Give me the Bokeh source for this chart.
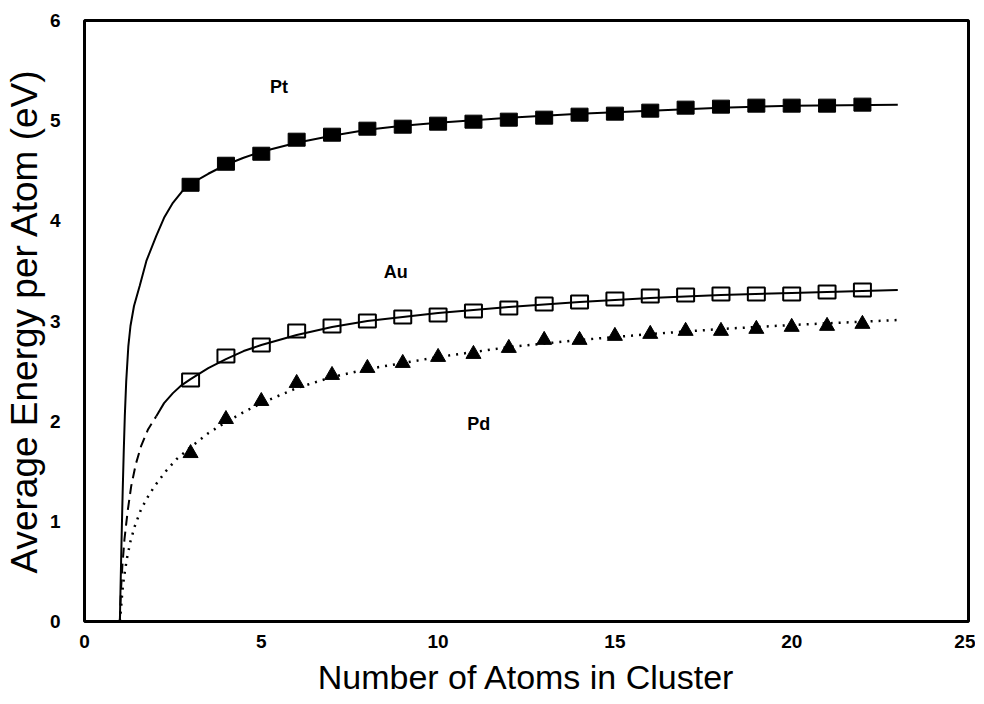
from bokeh.plotting import figure
from bokeh.models import Range1d, FixedTicker, Label
from bokeh.embed import file_html
from bokeh.resources import INLINE

# ---- data ----
n_atoms = list(range(3, 23))
pt_energy = [4.36, 4.57, 4.67, 4.81, 4.86, 4.92, 4.94, 4.97, 4.99, 5.01,
             5.03, 5.06, 5.07, 5.10, 5.13, 5.14, 5.15, 5.15, 5.15, 5.16]
au_energy = [2.41, 2.65, 2.76, 2.90, 2.95, 3.00, 3.04, 3.06, 3.10, 3.13,
             3.17, 3.19, 3.22, 3.25, 3.26, 3.27, 3.27, 3.27, 3.29, 3.31]
pd_energy = [1.68, 2.02, 2.20, 2.38, 2.46, 2.53, 2.58, 2.64, 2.67, 2.73,
             2.81, 2.81, 2.85, 2.87, 2.90, 2.90, 2.92, 2.94, 2.95, 2.97]

# fitted curves
pt_fit_x = [1.0, 1.02, 1.05, 1.08, 1.11, 1.14, 1.18, 1.24, 1.3, 1.4, 1.56, 1.75, 2.03, 2.25, 2.5,
            2.75, 3, 3.5, 4, 4.5, 5, 6, 7, 8, 9, 10, 12, 14, 16, 18, 20, 23]
pt_fit_y = [0.0, 0.35, 0.85, 1.3, 1.7, 2.05, 2.4, 2.75, 2.95, 3.15, 3.35, 3.6, 3.85, 4.03, 4.18,
            4.29, 4.37, 4.47, 4.56, 4.63, 4.69, 4.78, 4.85, 4.91, 4.95, 4.98, 5.03, 5.07, 5.10,
            5.13, 5.15, 5.16]
au_fit_dash_x = [1.0, 1.03, 1.07, 1.13, 1.22, 1.32, 1.45, 1.6, 1.8, 2.03]
au_fit_dash_y = [0.0, 0.3, 0.55, 0.82, 1.1, 1.35, 1.57, 1.75, 1.92, 2.05]
au_fit_x = [2.03, 2.25, 2.5, 2.75, 3, 3.5, 4, 4.5, 5, 6, 7, 8, 10, 12, 14, 16, 18, 20, 23]
au_fit_y = [2.05, 2.18, 2.28, 2.36, 2.42, 2.53, 2.62, 2.70, 2.76, 2.86, 2.94, 3.00, 3.08, 3.14,
            3.19, 3.23, 3.26, 3.28, 3.31]
pd_fit_x = [1.0, 1.03, 1.07, 1.12, 1.2, 1.3, 1.42, 1.6, 1.8, 2.0, 2.3, 2.6, 3, 3.5, 4, 4.5, 5,
            6, 7, 8, 9, 10, 12, 14, 16, 18, 20, 23]
pd_fit_y = [0.0, 0.12, 0.3, 0.45, 0.63, 0.8, 0.95, 1.12, 1.25, 1.36, 1.5, 1.62, 1.74, 1.88, 1.99,
            2.09, 2.18, 2.33, 2.44, 2.52, 2.58, 2.64, 2.74, 2.81, 2.87, 2.92, 2.96, 3.01]

x_ticks = [0, 5, 10, 15, 20, 25]
y_ticks = [0, 1, 2, 3, 4, 5, 6]
labels = ["Pt", "Au", "Pd"]
label_x = [5.5, 8.8, 11.15]
label_y = [5.34, 3.49, 1.97]

FONT = "Liberation Sans"

p = figure(width=975, height=699, output_backend="svg", toolbar_location=None,
           x_range=Range1d(0, 25), y_range=Range1d(0, 6),
           min_border_left=84, min_border_top=20, min_border_right=7, min_border_bottom=78)
p.grid.visible = False
p.background_fill_color = "white"
p.border_fill_color = "white"
p.outline_line_color = "black"
p.outline_line_width = 3

for ax in (p.xaxis[0], p.yaxis[0]):
    ax.axis_line_color = None
    ax.major_tick_line_color = None
    ax.minor_tick_line_color = None
    ax.major_label_text_font = FONT
    ax.major_label_text_font_style = "bold"
    ax.major_label_text_font_size = "19px"
    ax.major_label_text_color = "black"
    ax.axis_label_text_font = FONT
    ax.axis_label_text_font_style = "normal"
    ax.axis_label_text_color = "black"

p.xaxis.axis_label_text_font_size = "34px"
p.yaxis.axis_label_text_font_size = "37px"
p.xaxis.ticker = FixedTicker(ticks=x_ticks)
p.yaxis.ticker = FixedTicker(ticks=y_ticks)
p.xaxis.axis_label = "Number of Atoms in Cluster"
p.yaxis.axis_label = "Average Energy per Atom (eV)"
p.xaxis.major_label_standoff = 7
p.xaxis.axis_label_standoff = 7
p.yaxis.major_label_standoff = 18
p.yaxis.axis_label_standoff = 2

# curves
p.line(pt_fit_x, pt_fit_y, line_color="black", line_width=2)
p.line(au_fit_dash_x, au_fit_dash_y, line_color="black", line_width=2, line_dash="10 6")
p.line(au_fit_x, au_fit_y, line_color="black", line_width=2)
p.line(pd_fit_x, pd_fit_y, line_color="black", line_width=2.5, line_dash="2 6")

# markers
p.rect(n_atoms, pt_energy, width=17, height=13, width_units="screen", height_units="screen",
       fill_color="black", line_color="black", line_width=1)
p.rect(n_atoms, au_energy, width=17, height=13, width_units="screen", height_units="screen",
       fill_color=None, line_color="black", line_width=2)
p.scatter(n_atoms, pd_energy, marker="triangle", size=15, fill_color="black", line_color="black")

for t, lx, ly in zip(labels, label_x, label_y):
    p.add_layout(Label(x=lx, y=ly, text=t, text_font=FONT, text_font_style="bold",
                       text_font_size="18px", text_color="black",
                       text_align="center", text_baseline="middle"))

open("out.html", "w").write(file_html(p, INLINE))
